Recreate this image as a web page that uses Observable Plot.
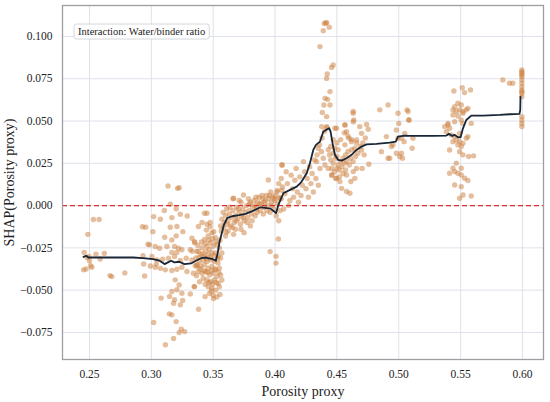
<!DOCTYPE html>
<html><head><meta charset="utf-8">
<script src="https://cdn.jsdelivr.net/npm/d3@7"></script>
<script src="https://cdn.jsdelivr.net/npm/@observablehq/plot@0.6"></script>
<style>body{margin:0;background:#fff;} svg{display:block;}</style>
</head><body><div id="chart"></div>
<script>
const xTicks = [0.25,0.30,0.35,0.40,0.45,0.50,0.55,0.60];
const yTicks = [-0.075,-0.050,-0.025,0.000,0.025,0.050,0.075,0.100];
const legendLabel = "Interaction: Water/binder ratio";
const xLabel = "Porosity proxy";
const yLabel = "SHAP(Porosity proxy)";

const leftPts = [[0.2452,-0.038],[0.2473,-0.0375],[0.2457,-0.0277],[0.2487,-0.017],[0.2532,-0.0082],[0.2578,-0.0082],[0.248,-0.0307],[0.25,-0.0326],[0.251,-0.0355],[0.2553,-0.0287],[0.2586,-0.0316],[0.262,-0.0283],[0.2519,-0.0365],[0.268,-0.042],[0.2666,-0.0414],[0.2786,-0.0398],[0.2495,-0.0301]];

const midLeftPts = [[0.2928,-0.0125],[0.3135,0.0116],[0.3212,0.0102],[0.3225,0.0106],[0.3153,0.0008],[0.3201,-0.0019],[0.3105,-0.0029],[0.3234,-0.0051],[0.3019,-0.0065],[0.3073,-0.0081],[0.3166,-0.0071],[0.329,-0.0062],[0.2954,-0.0128],[0.3013,-0.0154],[0.3153,-0.0128],[0.3207,-0.0124],[0.3255,-0.0154],[0.3201,-0.0179],[0.3108,-0.0187],[0.3166,-0.0203],[0.3328,-0.0193],[0.2986,-0.0232],[0.3032,-0.0242],[0.3067,-0.0252],[0.3126,-0.0242],[0.3188,-0.0242],[0.322,-0.0252],[0.3247,-0.0261],[0.3207,-0.0277],[0.3166,-0.0277],[0.3315,-0.0261],[0.335,-0.0213],[0.3368,-0.0271],[0.3005,-0.0301],[0.3046,-0.0321],[0.3092,-0.0317],[0.3139,-0.0311],[0.3188,-0.0301],[0.3234,-0.0325],[0.3282,-0.0311],[0.3328,-0.0321],[0.2992,-0.0357],[0.3032,-0.0365],[0.3073,-0.0371],[0.3113,-0.038],[0.3166,-0.0384],[0.3207,-0.0376],[0.3247,-0.0365],[0.3288,-0.039],[0.2938,-0.0345],[0.2946,-0.0416],[0.3193,-0.0439],[0.3225,-0.0469],[0.3207,-0.0498],[0.3166,-0.0508],[0.3247,-0.0518],[0.3147,-0.0537],[0.3188,-0.0557],[0.3253,-0.0561],[0.318,-0.0577],[0.3234,-0.0587],[0.3315,-0.0522],[0.3348,-0.0479],[0.3079,-0.0547],[0.3145,-0.064],[0.3166,-0.0646],[0.3201,-0.0686],[0.3019,-0.0691],[0.3242,-0.0731],[0.3225,-0.0751],[0.3269,-0.0745],[0.318,-0.0786],[0.3114,-0.0823],[0.3382,-0.0613],[0.3368,-0.0357],[0.2933,-0.0297],[0.2973,-0.0229],[0.304,-0.0346]];

const kneePts = [[0.343,-0.020],[0.346,-0.018],[0.349,-0.016],[0.352,-0.019],[0.348,-0.022],[0.345,-0.024],[0.341,-0.025],[0.338,-0.027],[0.344,-0.027],[0.347,-0.026],[0.350,-0.024],[0.353,-0.023],[0.355,-0.025],[0.340,-0.029],[0.343,-0.030],[0.346,-0.029],[0.349,-0.028],[0.352,-0.028],[0.354,-0.030],[0.336,-0.031],[0.339,-0.033],[0.342,-0.032],[0.345,-0.033],[0.348,-0.032],[0.351,-0.033],[0.354,-0.034],[0.356,-0.031],[0.337,-0.035],[0.340,-0.036],[0.343,-0.035],[0.346,-0.037],[0.349,-0.036],[0.352,-0.038],[0.355,-0.037],[0.338,-0.039],[0.341,-0.040],[0.344,-0.039],[0.347,-0.041],[0.350,-0.040],[0.353,-0.042],[0.356,-0.041],[0.342,-0.043],[0.345,-0.044],[0.348,-0.045],[0.351,-0.044],[0.354,-0.046],[0.346,-0.048],[0.349,-0.049],[0.352,-0.050],[0.355,-0.048],[0.350,-0.053],[0.347,-0.052],[0.353,-0.054],[0.345,-0.011],[0.341,-0.010],[0.333,-0.027],[0.335,-0.022],[0.339,-0.045],[0.334,-0.040],[0.357,-0.044],[0.357,-0.028],
[0.3375,-0.0235],[0.3405,-0.0215],[0.3435,-0.0225],[0.3465,-0.0205],[0.3495,-0.0195],[0.3525,-0.0215],[0.3555,-0.0205],[0.3385,-0.0305],[0.3415,-0.0285],[0.3445,-0.0315],[0.3475,-0.0305],[0.3505,-0.0295],[0.3535,-0.0315],[0.3395,-0.0375],[0.3425,-0.0385],[0.3455,-0.0395],[0.3485,-0.0385],[0.3515,-0.0375],[0.3545,-0.0395],[0.3435,-0.0465],[0.3465,-0.0455],[0.3495,-0.0465],[0.3525,-0.0455],[0.3555,-0.0525],[0.3485,-0.0505],[0.3445,-0.0145],[0.3475,-0.0125],[0.3505,-0.0155],[0.3365,-0.0415],[0.3355,-0.0355],
[0.343,-0.0045],[0.345,-0.0045],[0.3476,-0.010],[0.3381,-0.0124],[0.3435,-0.0538],[0.3502,-0.055],[0.3347,-0.0479]];

const risePts = [[0.356,-0.012],[0.357,-0.008],[0.358,-0.004],[0.359,-0.010],[0.360,-0.006],[0.361,-0.002],[0.362,-0.009],[0.363,-0.005],[0.364,-0.012],[0.365,-0.007],[0.366,-0.003],[0.367,-0.010],[0.368,-0.006],[0.369,-0.001],[0.370,-0.008],[0.371,-0.004],[0.372,-0.011],[0.373,-0.006],[0.374,-0.002],[0.375,-0.009],[0.376,-0.004],[0.377,0.000],[0.378,-0.007],[0.379,-0.003],[0.380,0.002],[0.381,-0.005],[0.382,-0.001],[0.383,0.003],[0.384,-0.006],[0.385,-0.002],[0.386,0.002],[0.387,0.005],[0.388,-0.003],[0.389,0.001],[0.390,0.004],[0.391,-0.001],[0.392,0.003],[0.393,0.006],[0.394,0.000],[0.395,0.004],[0.396,-0.004],[0.397,0.002],[0.398,0.005],[0.399,-0.002],[0.400,0.003],[0.401,-0.006],[0.402,0.001],[0.403,-0.009],[0.404,-0.003],[0.405,0.004],[0.362,-0.015],[0.368,-0.014],[0.375,-0.016],[0.380,-0.012],[0.371,0.003],[0.366,0.004],[0.360,-0.018],
[0.3565,-0.015],[0.3585,-0.013],[0.3615,-0.011],[0.3635,-0.001],[0.3655,-0.013],[0.3685,-0.009],[0.3705,-0.002],[0.3725,-0.014],[0.3745,-0.007],[0.3775,-0.010],[0.3795,0.001],[0.3815,-0.009],[0.3835,0.000],[0.3855,-0.004],[0.3875,0.001],[0.3895,0.006],[0.3915,0.002],[0.3935,-0.003],[0.3955,0.006],[0.3975,0.000],[0.3995,0.004],[0.3665,-0.017],[0.3725,0.002],[0.3785,0.004],[0.3845,0.005],[0.3905,-0.005],[0.3965,0.008],[0.4015,0.008],[0.4035,0.005],[0.4055,0.009],
[0.396,-0.0272],[0.4008,-0.030],[0.4008,-0.034],[0.4027,-0.0197],[0.4054,0.024],[0.3946,0.0152],[0.3745,0.0063],[0.3665,0.0043],[0.3605,-0.0158]];

const climbPts = [[0.400,0.006],[0.402,0.009],[0.404,0.004],[0.406,0.011],[0.408,0.007],[0.410,0.013],[0.412,0.003],[0.414,0.010],[0.416,0.015],[0.418,0.008],[0.420,0.017],[0.422,0.012],[0.424,0.020],[0.426,0.016],[0.428,0.023],[0.430,0.019],[0.432,0.027],[0.434,0.030],[0.436,0.036],[0.438,0.040],[0.440,0.044],[0.442,0.046],[0.413,0.018],[0.417,0.022],[0.421,0.006],[0.425,0.010],[0.429,0.013],[0.433,0.016],[0.427,0.005],[0.419,0.002],[0.411,0.000],[0.407,-0.002],[0.423,0.026],[0.431,0.008],[0.435,0.012],[0.415,0.005],[0.409,0.020],[0.405,0.016],[0.403,0.013],[0.4059,0.024]];

const peakPts = [[0.4398,0.1077],[0.4417,0.1082],[0.4438,0.1055],[0.4390,0.1034],[0.441,0.108],[0.4363,0.094],[0.447,0.0831],[0.4457,0.0817],[0.4422,0.0778],[0.4417,0.0752],[0.4444,0.0674],[0.4404,0.0634],[0.4425,0.0628],[0.4395,0.0595],[0.4444,0.0595],[0.4382,0.055],[0.4417,0.0526],[0.4377,0.0467],[0.4417,0.0467],[0.4484,0.0457],[0.4565,0.0477],[0.4632,0.0496],[0.4632,0.0546],
[0.4497,0.0457],[0.4565,0.0477],[0.4578,0.0437],[0.4632,0.0556],[0.4637,0.0506],[0.4685,0.0467],[0.474,0.048],[0.4753,0.0451],[0.4699,0.0427],[0.4659,0.0388],[0.4618,0.0378],[0.4597,0.0398],[0.4565,0.0359],[0.4645,0.0339],[0.4699,0.0329],[0.472,0.030],[0.4758,0.0244],[0.4659,0.022],[0.4704,0.022],[0.4632,0.0201],[0.4578,0.0181],[0.4645,0.0161],[0.4613,0.0142],[0.4524,0.0142],[0.4497,0.0161],[0.4538,0.0102],[0.4578,0.0083],[0.4605,0.0073],[0.4457,0.0181],[0.443,0.022],[0.4403,0.024],[0.439,0.028],[0.4376,0.0319],[0.4349,0.0339],[0.4336,0.026],[0.4363,0.022],
[0.445,0.027],[0.447,0.025],[0.449,0.028],[0.451,0.024],[0.453,0.026],[0.446,0.022],[0.448,0.020],[0.450,0.022],[0.452,0.021],[0.454,0.023],[0.444,0.030],[0.447,0.031],[0.450,0.029],[0.455,0.028],[0.456,0.025],[0.457,0.030],[0.459,0.032],[0.461,0.028],[0.458,0.026],[0.462,0.033],[0.448,0.034],[0.451,0.033],[0.445,0.035],[0.443,0.033],[0.446,0.018],[0.449,0.016],[0.452,0.017],[0.455,0.019],[0.457,0.021],[0.460,0.024],[0.463,0.026],[0.465,0.029],[0.467,0.031],[0.469,0.035],[0.471,0.037],[0.473,0.040],[0.466,0.037],[0.462,0.039],[0.459,0.041],[0.456,0.043],[0.453,0.039],[0.450,0.037],[0.447,0.039]];

const plateauPts = [[0.4847,0.0566],[0.4914,0.0595],[0.4994,0.0546],[0.500,0.0486],[0.4981,0.0447],[0.4994,0.0398],[0.5022,0.0398],[0.5043,0.0378],[0.5075,0.0556],[0.5081,0.0506],[0.5048,0.0427],[0.5108,0.0339],[0.4941,0.0349],[0.4860,0.0319],[0.4914,0.028],[0.4981,0.0309],[0.5008,0.029],[0.4954,0.0359],[0.4927,0.028],[0.4900,0.0408],[0.5067,0.0566],[0.5083,0.0506],[0.5115,0.0398],[0.5022,0.0309],[0.503,0.028]];

const col055Pts = [[0.5446,0.0678],[0.5513,0.0697],[0.5532,0.0668],[0.558,0.0684],[0.5452,0.0585],[0.5478,0.0605],[0.5505,0.0595],[0.5438,0.0566],[0.5465,0.0556],[0.5492,0.0566],[0.5519,0.0556],[0.5546,0.0566],[0.5559,0.0575],[0.5438,0.0536],[0.5478,0.053],[0.5519,0.0546],[0.5505,0.0506],[0.5452,0.0496],[0.5519,0.0486],[0.5586,0.0486],[0.5398,0.0486],[0.5371,0.0467],[0.5398,0.0477],[0.5411,0.0457],[0.5385,0.0437],[0.5425,0.0417],[0.5452,0.0408],[0.5492,0.0427],[0.5465,0.0388],[0.5492,0.0378],[0.5438,0.0378],[0.5478,0.0359],[0.5519,0.0368],[0.5546,0.0398],[0.5559,0.0408],[0.5505,0.0349],[0.5492,0.0319],[0.5519,0.030],[0.5565,0.029],[0.5605,0.0294],[0.5411,0.0329],[0.5465,0.0251],[0.5505,0.0221],[0.5438,0.0221],[0.5478,0.0191],[0.5411,0.0191],[0.5452,0.0201],[0.5505,0.0181],[0.5532,0.0162],[0.5559,0.0148],[0.5452,0.0122],[0.5505,0.0112],[0.5519,0.0063],[0.5586,0.0057],[0.5492,0.0043]];

const col060Pts = [[0.5841,0.0743],[0.5895,0.0723],[0.5922,0.0723],[0.5995,0.0802],[0.5995,0.0792],[0.5995,0.0782],[0.5995,0.0772],[0.5995,0.0762],[0.5995,0.0743],[0.5995,0.0723],[0.5995,0.0703],[0.5995,0.0684],[0.5995,0.0674],[0.5995,0.0664],[0.5995,0.0644],[0.5995,0.0526],[0.5995,0.0506],[0.5995,0.0486],[0.5995,0.0467]];

const trendPts = [[0.2452,-0.0303],[0.2473,-0.0297],[0.2492,-0.0307],[0.2666,-0.0307],[0.2853,-0.0307],[0.2933,-0.0311],[0.3013,-0.0316],[0.3067,-0.0326],[0.3107,-0.0346],[0.3134,-0.0336],[0.316,-0.0326],[0.3187,-0.0336],[0.3227,-0.0332],[0.3267,-0.0346],[0.3321,-0.0342],[0.3361,-0.0326],[0.3401,-0.0311],[0.3441,-0.0307],[0.3495,-0.0316],[0.3521,-0.0326],[0.3535,-0.0287],[0.3553,-0.0209],[0.3588,-0.0111],[0.3615,-0.0072],[0.3655,-0.0063],[0.3709,-0.0057],[0.3762,-0.0049],[0.3816,-0.0033],[0.3882,-0.001],[0.3922,-0.0014],[0.3963,-0.0018],[0.399,-0.0033],[0.4008,-0.0045],[0.4027,0.0004],[0.4067,0.0073],[0.4121,0.0093],[0.4175,0.0112],[0.4202,0.0132],[0.4215,0.0142],[0.4256,0.0191],[0.4282,0.025],[0.4309,0.0329],[0.4331,0.0359],[0.4363,0.0378],[0.439,0.0437],[0.4422,0.0451],[0.4438,0.0457],[0.4449,0.0437],[0.4465,0.0368],[0.4484,0.030],[0.4511,0.027],[0.4538,0.0266],[0.4578,0.028],[0.4618,0.030],[0.4659,0.0329],[0.4699,0.0349],[0.474,0.0362],[0.482,0.0365],[0.4927,0.0372],[0.4976,0.0378],[0.4994,0.0408],[0.5048,0.0414],[0.5089,0.0412],[0.5277,0.0412],[0.5385,0.0414],[0.5406,0.0424],[0.5433,0.0412],[0.5452,0.0418],[0.5478,0.0404],[0.55,0.0404],[0.5519,0.0457],[0.5546,0.0506],[0.5586,0.0532],[0.568,0.0532],[0.5815,0.0536],[0.5895,0.054],[0.5976,0.0542],[0.5982,0.0566],[0.5984,0.0644]];

const toObj = ([x, y]) => ({x, y});
const points = [...leftPts, ...midLeftPts, ...kneePts, ...risePts, ...climbPts, ...peakPts, ...plateauPts, ...col055Pts, ...col060Pts].map(toObj);
const trend = trendPts.map(toObj);

const font = "Liberation Serif";
const chart = Plot.plot({
  width: 550, height: 402,
  marginLeft: 62, marginRight: 7, marginTop: 5, marginBottom: 43,
  style: {fontFamily: font, background: "#fff", color: "#222"},
  x: {domain: [0.2282, 0.617]},
  y: {domain: [-0.091, 0.1183]},
  marks: [
    Plot.gridX(xTicks, {stroke: "#dfe2eb", strokeOpacity: 1, strokeWidth: 1}),
    Plot.gridY(yTicks, {stroke: "#dfe2eb", strokeOpacity: 1, strokeWidth: 1}),
    Plot.dot(points, {x: "x", y: "y", r: 2.7, fill: "#cc7d3c", fillOpacity: 0.5, stroke: "none"}),
    Plot.ruleY([0], {stroke: "#d62f2f", strokeDasharray: "5,3", strokeWidth: 1.2}),
    Plot.line(trend, {x: "x", y: "y", stroke: "#182636", strokeWidth: 1.8}),
    Plot.frame({stroke: "#9c9ea3", strokeWidth: 1.3}),
    Plot.axisX(xTicks, {tickSize: 0, tickPadding: 10, tickFormat: d3.format(".2f"), fontSize: 11.5, fontFamily: font, label: null}),
    Plot.axisY(yTicks, {tickSize: 0, tickPadding: 10, tickFormat: d3.format(".3f"), fontSize: 11.5, fontFamily: font, label: null}),
    Plot.text([xLabel], {frameAnchor: "bottom", dy: 32, lineAnchor: "middle", fontSize: 14, fontFamily: font, fill: "#222"}),
    Plot.text([yLabel], {frameAnchor: "left", dx: -53, rotate: -90, textAnchor: "middle", lineAnchor: "middle", fontSize: 14, fontFamily: font, fill: "#222"})
  ]
});
document.getElementById("chart").appendChild(chart);

// annotation label box
const svg = d3.select(chart);
const g = svg.append("g");
const t = g.append("text").attr("x", 78).attr("y", 35).attr("text-anchor", "start")
  .style("font-family", font).style("font-size", "10.5px").attr("fill", "#222").text(legendLabel);
const bb = t.node().getBBox();
g.insert("rect", "text").attr("x", bb.x - 4).attr("y", 24).attr("width", bb.width + 8).attr("height", 15)
  .attr("rx", 2.5).attr("fill", "#fff").attr("fill-opacity", 0.85).attr("stroke", "#cfd1d6").attr("stroke-width", 0.9);
</script></body></html>
